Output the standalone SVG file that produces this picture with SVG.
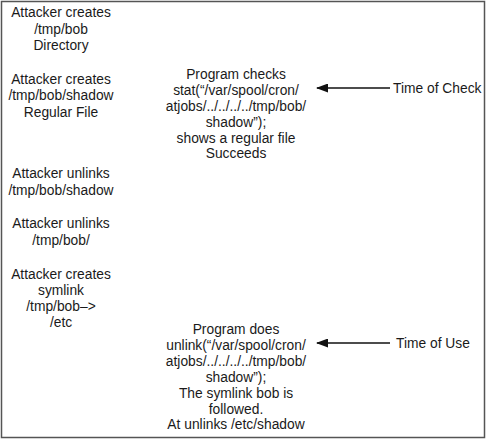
<svg xmlns="http://www.w3.org/2000/svg" width="488" height="441" viewBox="0 0 488 441">
<defs>
<style>
text{font-family:"Liberation Sans",Arial,Helvetica,sans-serif;font-size:13.8px;fill:#1a1a1a}
.c{text-anchor:middle}
.l{stroke:#111;stroke-width:1.5;fill:none}
</style>
<marker id="ah" markerWidth="12" markerHeight="9" refX="11" refY="4.5" orient="auto" markerUnits="userSpaceOnUse">
<path d="M0,0 L12,4.5 L0,9 Z" fill="#111"/>
</marker>
</defs>
<rect x="1.5" y="1.5" width="483" height="436" fill="#fff" stroke="#555" stroke-width="1.5"/>
<g id="a1">
<text class="c" x="61" y="17">Attacker creates</text>
<text class="c" x="61" y="33.5">/tmp/bob</text>
<text class="c" x="61" y="50">Directory</text>
</g>
<g id="a2">
<text class="c" x="61" y="83.5">Attacker creates</text>
<text class="c" x="61" y="100">/tmp/bob/shadow</text>
<text class="c" x="61" y="116.5">Regular File</text>
</g>
<g id="a3">
<text class="c" x="61" y="178">Attacker unlinks</text>
<text class="c" x="61" y="194.5">/tmp/bob/shadow</text>
</g>
<g id="a4">
<text class="c" x="61" y="228">Attacker unlinks</text>
<text class="c" x="61" y="244.5">/tmp/bob/</text>
</g>
<g id="a5">
<text class="c" x="61" y="279">Attacker creates</text>
<text class="c" x="61" y="295">symlink</text>
<text class="c" x="61" y="311">/tmp/bob–&gt;</text>
<text class="c" x="61" y="327">/etc</text>
</g>
<g id="p1">
<text class="c" x="236" y="78.5">Program checks</text>
<text class="c" x="236" y="94.5">stat(“/var/spool/cron/</text>
<text class="c" x="236" y="110.5">atjobs/../../../../tmp/bob/</text>
<text class="c" x="236" y="126.5">shadow”);</text>
<text class="c" x="236" y="142.5">shows a regular file</text>
<text class="c" x="236" y="158">Succeeds</text>
</g>
<g id="p2">
<text class="c" x="236" y="333.5">Program does</text>
<text class="c" x="236" y="349.5">unlink(“/var/spool/cron/</text>
<text class="c" x="236" y="365.5">atjobs/../../../../tmp/bob/</text>
<text class="c" x="236" y="381.5">shadow”);</text>
<text class="c" x="236" y="397.5">The symlink bob is</text>
<text class="c" x="236" y="413.5">followed.</text>
<text class="c" x="236" y="429">At unlinks /etc/shadow</text>
</g>
<g id="t1"><text x="393" y="93">Time of Check</text></g>
<g id="t2"><text x="396" y="348">Time of Use</text></g>
<g id="connectors">
<line class="l" x1="390" y1="88" x2="317" y2="88" marker-end="url(#ah)"/>
<line class="l" x1="390" y1="343" x2="317" y2="343" marker-end="url(#ah)"/>
</g>
</svg>
